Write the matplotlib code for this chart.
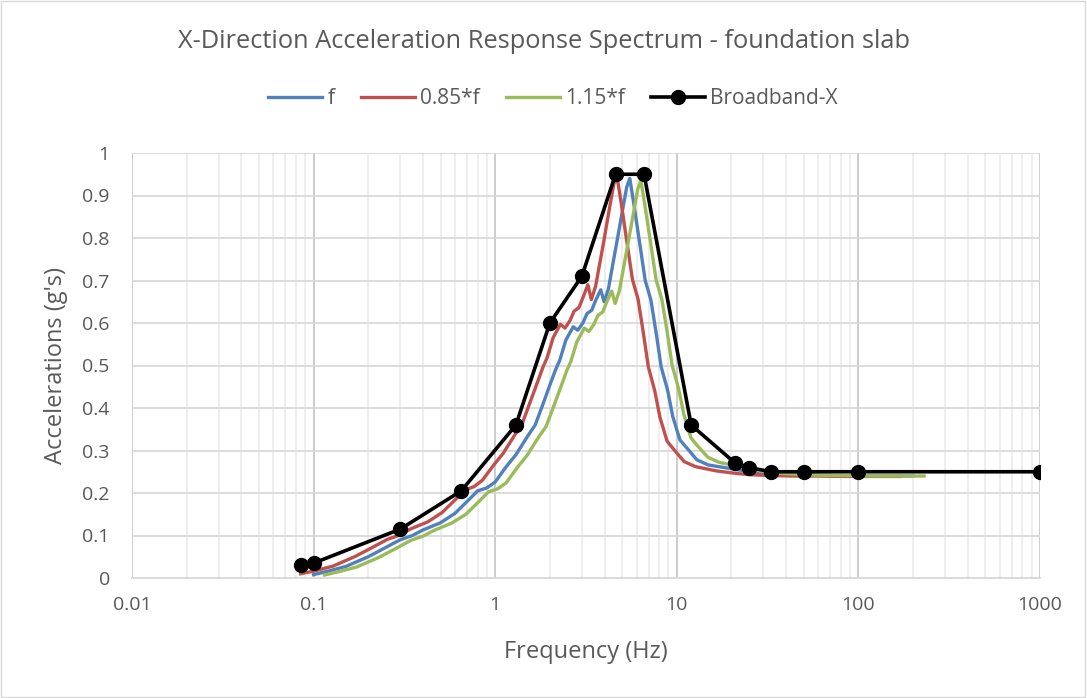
#X-direction acceleration response spectrum of the foundation slab
#three shifted spectra (f, 0.85*f, 1.15*f) plus the broadband envelope on a log frequency axis

import matplotlib
matplotlib.use("Agg")
import matplotlib.pyplot as plt
from matplotlib.ticker import LogLocator, FixedLocator, FixedFormatter, NullFormatter
from matplotlib.patches import Rectangle

#spectrum at nominal frequency f
freq_f = [0.10, 0.12, 0.15, 0.20, 0.25, 0.30, 0.35, 0.40, 0.50, 0.60, 0.70, 0.80, 0.90, 1.00,
          1.15, 1.30, 1.50, 1.66, 1.80, 2.00, 2.15, 2.27, 2.45, 2.69, 2.85, 3.04, 3.20, 3.40,
          3.58, 3.81, 3.98, 4.20, 4.45, 4.66, 5.00, 5.30, 5.51, 5.80, 6.25, 6.70, 7.20, 7.70,
          8.20, 8.90, 9.50, 10.4, 11.2, 12.9, 14.9, 19.4, 25.0, 30.0, 40.0, 50.0, 70.0, 100.0,
          150.0, 200.0]
acc_f = [0.008, 0.016, 0.027, 0.050, 0.072, 0.090, 0.100, 0.113, 0.130, 0.152, 0.180, 0.205, 0.212, 0.226,
         0.262, 0.290, 0.332, 0.360, 0.400, 0.454, 0.490, 0.513, 0.560, 0.591, 0.583, 0.600, 0.622, 0.630,
         0.654, 0.678, 0.650, 0.680, 0.740, 0.787, 0.860, 0.920, 0.940, 0.880, 0.787, 0.700, 0.654, 0.576,
         0.497, 0.442, 0.380, 0.325, 0.309, 0.278, 0.266, 0.258, 0.250, 0.246, 0.243, 0.242, 0.241, 0.240,
         0.240, 0.240]

#spectrum shifted to 0.85*f
freq_lo = [0.085, 0.102, 0.128, 0.170, 0.213, 0.255, 0.298, 0.340, 0.425, 0.510, 0.595, 0.680, 0.765, 0.850,
           0.978, 1.105, 1.275, 1.411, 1.530, 1.700, 1.828, 1.930, 2.083, 2.287, 2.423, 2.584, 2.720, 2.890,
           3.043, 3.239, 3.383, 3.570, 3.783, 3.961, 4.250, 4.505, 4.684, 4.930, 5.313, 5.695, 6.120, 6.545,
           6.970, 7.565, 8.075, 8.840, 9.520, 10.97, 12.67, 16.49, 21.25, 25.50, 34.00, 42.50, 59.50, 85.00,
           127.5, 170.0]
acc_lo = [0.010, 0.017, 0.028, 0.051, 0.073, 0.091, 0.101, 0.115, 0.132, 0.154, 0.182, 0.207, 0.215, 0.230,
          0.265, 0.293, 0.335, 0.364, 0.405, 0.458, 0.495, 0.518, 0.565, 0.597, 0.588, 0.606, 0.628, 0.636,
          0.660, 0.690, 0.655, 0.686, 0.745, 0.792, 0.868, 0.928, 0.945, 0.885, 0.790, 0.703, 0.656, 0.576,
          0.497, 0.440, 0.378, 0.322, 0.305, 0.274, 0.262, 0.252, 0.246, 0.243, 0.241, 0.240, 0.240, 0.239,
          0.239, 0.239]

#spectrum shifted to 1.15*f
freq_hi = [0.115, 0.138, 0.173, 0.230, 0.288, 0.345, 0.403, 0.460, 0.575, 0.690, 0.805, 0.920, 1.035, 1.150,
           1.323, 1.495, 1.725, 1.909, 2.070, 2.300, 2.473, 2.611, 2.818, 3.094, 3.278, 3.496, 3.680, 3.910,
           4.117, 4.382, 4.577, 4.830, 5.118, 5.359, 5.750, 6.095, 6.337, 6.670, 7.188, 7.705, 8.280, 8.855,
           9.430, 10.24, 10.93, 11.96, 12.88, 14.84, 17.14, 22.31, 28.75, 34.50, 46.00, 57.50, 80.50, 115.0,
           172.5, 230.0]
acc_hi = [0.007, 0.015, 0.026, 0.049, 0.071, 0.089, 0.099, 0.112, 0.129, 0.150, 0.178, 0.203, 0.210, 0.224,
          0.260, 0.288, 0.330, 0.357, 0.397, 0.450, 0.487, 0.510, 0.556, 0.588, 0.580, 0.597, 0.618, 0.626,
          0.650, 0.675, 0.646, 0.676, 0.735, 0.782, 0.855, 0.915, 0.935, 0.878, 0.786, 0.700, 0.655, 0.578,
          0.500, 0.445, 0.385, 0.330, 0.313, 0.284, 0.272, 0.262, 0.252, 0.247, 0.244, 0.242, 0.241, 0.240,
          0.240, 0.240]

#broadband envelope
freq_bb = [0.085, 0.1, 0.3, 0.65, 1.3, 2.0, 3.0, 4.6, 6.6, 12.0, 21.0, 25.0, 33.0, 50.0, 100.0, 1000.0]
acc_bb = [0.03, 0.035, 0.115, 0.205, 0.36, 0.60, 0.71, 0.95, 0.95, 0.36, 0.27, 0.26, 0.25, 0.25, 0.25, 0.25]

x_ticks = [0.01, 0.1, 1, 10, 100, 1000]
x_tick_labels = ["0.01", "0.1", "1", "10", "100", "1000"]
y_ticks = [0, 0.1, 0.2, 0.3, 0.4, 0.5, 0.6, 0.7, 0.8, 0.9, 1.0]
y_tick_labels = ["0", "0.1", "0.2", "0.3", "0.4", "0.5", "0.6", "0.7", "0.8", "0.9", "1"]

TEXT = "#595959"
plt.rcParams['font.family'] = ['Open Sans', 'DejaVu Sans']

fig = plt.figure(figsize=(10.87, 6.98), dpi=100)
ax = fig.add_axes([132 / 1087, 1 - 578 / 698, 908 / 1087, 425 / 698])

#series
ax.plot(freq_f, acc_f, color="#4F81BD", lw=2.4, label="f", zorder=3)
ax.plot(freq_lo, acc_lo, color="#C0504D", lw=2.4, label="0.85*f", zorder=3)
ax.plot(freq_hi, acc_hi, color="#9BBB59", lw=2.4, label="1.15*f", zorder=3)
ax.plot(freq_bb, acc_bb, color="black", lw=2.6, marker="o", markersize=10,
        label="Broadband-X", zorder=4)

#axes setup
ax.set_xscale("log")
ax.set_xlim(0.01, 1000)
ax.set_ylim(0, 1)
ax.xaxis.set_major_locator(FixedLocator(x_ticks))
ax.xaxis.set_major_formatter(FixedFormatter(x_tick_labels))
ax.xaxis.set_minor_locator(LogLocator(base=10, subs=range(2, 10), numticks=20))
ax.xaxis.set_minor_formatter(NullFormatter())
ax.yaxis.set_major_locator(FixedLocator(y_ticks))
ax.yaxis.set_major_formatter(FixedFormatter(y_tick_labels))

ax.grid(True, which="minor", axis="x", color="#EDEDED", lw=1.3, zorder=0)
ax.grid(True, which="major", axis="x", color="#C8C8C8", lw=1.3, zorder=1)
ax.grid(True, which="major", axis="y", color="#D9D9D9", lw=1.3, zorder=1)
ax.set_axisbelow(True)

for side in ["top", "right", "left"]:
    ax.spines[side].set_visible(False)
ax.spines["bottom"].set_color("#D9D9D9")
ax.spines["bottom"].set_linewidth(1.3)

ax.tick_params(axis="both", which="both", length=0, labelsize=14, labelcolor=TEXT)
ax.tick_params(axis="x", pad=13)
ax.tick_params(axis="y", pad=16)

ax.set_xlabel("Frequency (Hz)", fontsize=17, color=TEXT, labelpad=19)
ax.set_ylabel("Accelerations (g's)", fontsize=17, color=TEXT, labelpad=10)

fig.text(0.5, 1 - 42 / 698, "X-Direction Acceleration Response Spectrum - foundation slab",
         ha="center", va="center", fontsize=18.3, color=TEXT)

leg = fig.legend(loc="center", bbox_to_anchor=(553 / 1087, 1 - 99 / 698), ncol=4, frameon=False,
                 fontsize=15, handlelength=2.6, columnspacing=1.25, handletextpad=0.25)
for t in leg.get_texts():
    t.set_color(TEXT)

#chart area border
fig.patches.append(Rectangle((0.001, 0.001), 0.997, 0.997, transform=fig.transFigure,
                             fill=False, edgecolor="#D9D9D9", lw=1))

fig.savefig("out.png", dpi=100)
